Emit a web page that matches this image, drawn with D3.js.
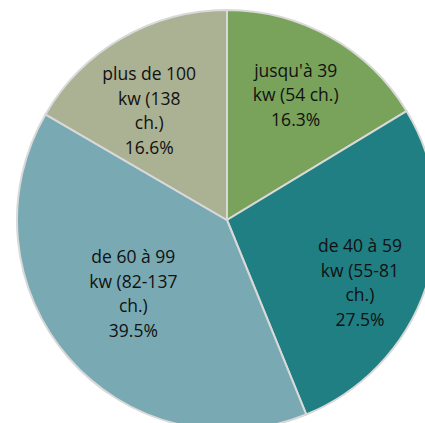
<html>
<head>
	<script src="https://d3js.org/d3.v7.min.js"></script>
	<style>
		body { margin: 0; background: #fff; }
		svg { display: block; }
	</style>
</head>
<body>
	<div id="chart"></div>
</body>
<script>
var categories = ["jusqu'à 39 kw", "de 40 à 59 kw", "de 60 à 99 kw", "plus de 100 kw"]
var shares = [16.3, 27.5, 39.5, 16.6]
var labelLines = [
	["jusqu'à 39", "kw (54 ch.)", "16.3%"],
	["de 40 à 59", "kw (55-81", "ch.)", "27.5%"],
	["de 60 à 99", "kw (82-137", "ch.)", "39.5%"],
	["plus de 100", "kw (138", "ch.)", "16.6%"]
]
var colors = ["#79a35a", "#207f82", "#79aab3", "#abb193"]

var width = 425
var height = 423
var cx = 227
var cy = 220
var radius = 210

// small hand nudges so the wrapped labels sit where the original put them
var labelShift = [[0, -3], [0, 19], [12, -18], [-8, 12]]

var svg = d3.select("#chart")
	.append("svg")
	.attr("width", width)
	.attr("height", height)

var g = svg.append("g")
	.attr("transform", "translate(" + cx + "," + cy + ")")

var pie = d3.pie()
	.sort(null)
	.value(function(d) { return d })

var arcs = pie(shares)

var arc = d3.arc()
	.innerRadius(0)
	.outerRadius(radius)

var labelArc = d3.arc()
	.innerRadius(140)
	.outerRadius(140)

g.selectAll(".slice")
	.data(arcs)
	.enter()
	.append("path")
	.attr("class", "slice")
	.attr("d", arc)
	.style("fill", function(d, i) { return colors[i] })
	.style("stroke", "#d9d9d9")
	.style("stroke-width", 2)

var lineHeight = 24.5

var labels = g.selectAll(".label")
	.data(arcs)
	.enter()
	.append("text")
	.attr("class", "label")
	.attr("transform", function(d, i) {
		var c = labelArc.centroid(d)
		return "translate(" + (c[0] + labelShift[i][0]) + "," + (c[1] + labelShift[i][1]) + ")"
	})
	.style("font-family", "'Open Sans', sans-serif")
	.style("font-size", "17.5px")
	.style("fill", "#111")
	.attr("text-anchor", "middle")

labels.each(function(d, i) {
	var lines = labelLines[i]
	var top = -(lines.length - 1) * lineHeight / 2
	d3.select(this).selectAll("tspan")
		.data(lines)
		.enter()
		.append("tspan")
		.attr("x", 0)
		.attr("y", function(l, j) { return top + j * lineHeight })
		.attr("dy", "0.35em")
		.text(function(l) { return l })
})
</script>
</html>
